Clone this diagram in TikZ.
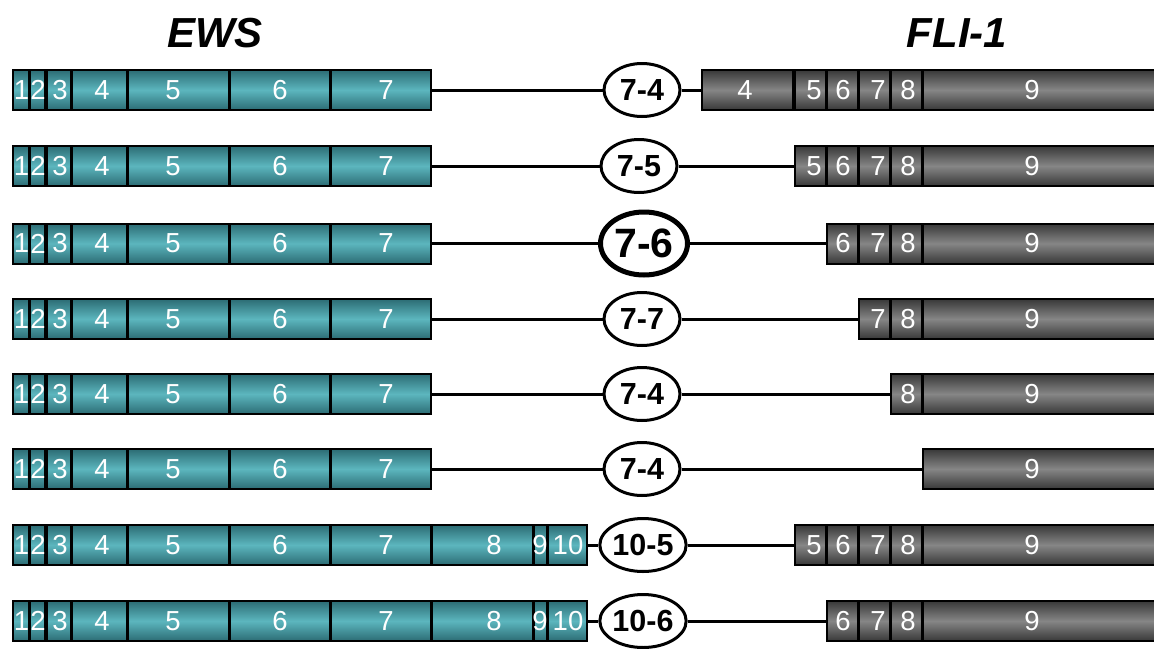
\documentclass[tikz,border=0pt]{standalone}
\usepackage{fontspec}
\setmainfont{Liberation Sans}
\usetikzlibrary{shapes.geometric}
\definecolor{tealhi}{RGB}{92,182,190}
\definecolor{tealdk}{RGB}{44,108,116}
\definecolor{grayhi}{RGB}{134,134,134}
\definecolor{graydk}{RGB}{56,56,56}
\tikzset{
  exon/.style={draw=black, line width=2pt, rectangle, inner sep=0pt, minimum height=40pt},
  ews/.style={exon, top color=tealdk, bottom color=tealdk, middle color=tealhi},
  fli/.style={exon, top color=graydk, bottom color=graydk, middle color=grayhi},
  num/.style={text=white, inner sep=0pt, font=\fontsize{27.5}{27.5}\selectfont},
  junction/.style={draw=black, ellipse, fill=white, inner sep=0pt},
  link/.style={line width=3pt},
  gene/.style={inner sep=0pt, font=\bfseries\itshape\fontsize{42}{42}\selectfont}
}
\begin{document}
\begin{tikzpicture}[x=1pt,y=-1pt]
\useasboundingbox (0,0) rectangle (1154,648);

% gene names
\node[gene] (ewsname) at (215,33) {EWS};
\node[gene] (fliname) at (957,33) {FLI-1};

% row / centre y / junction label / junction x / last EWS exon / first FLI-1 exon /
% outline width / font size / ellipse width / ellipse height
\foreach \r/\y/\lab/\jx/\last/\first/\lw/\fs/\ew/\eh in {
  1/90/7-4/642/7/4/3/30.5/76/53,
  2/166/7-5/639/7/5/3/30.5/76/53,
  3/243.5/7-6/644/7/6/5/41/87/63,
  4/319/7-7/642/7/7/3/30.5/76/53,
  5/394/7-4/642/7/8/3/30.5/76/53,
  6/469/7-4/642/7/9/3/30.5/76/53,
  7/545/10-5/643/10/5/3/30.5/76/53,
  8/621/10-6/643/10/6/3/30.5/76/53}{
  % EWS exons
  \foreach \k/\l/\rr/\tx in {1/13/29/21.5, 2/30/45/38, 3/46.5/71/60, 4/72/127/102,
      5/128/229/173, 6/230/330/280, 7/331/431/386, 8/432/533/494, 9/534/547/540,
      10/548/587/568}{
    \ifnum\k>\last\relax\else
      \node[ews, minimum width={(\rr-\l)*1pt}] (ews-\r-\k) at ({(\l+\rr)/2},\y) {};
      \node[num] (ewsnum-\r-\k) at (\tx,\y) {\k};
    \fi
  }
  % FLI-1 exons
  \foreach \k/\l/\rr/\tx in {4/702/793/745, 5/795/826/814, 6/827/858/843,
      7/859/890/878, 8/891/922/908, 9/923/1164/1032}{
    \ifnum\k<\first\relax\else
      \node[fli, minimum width={(\rr-\l)*1pt}] (fli-\r-\k) at ({(\l+\rr)/2},\y) {};
      \node[num] (flinum-\r-\k) at (\tx,\y) {\k};
    \fi
  }
  % breakpoint junction
  \node[junction, line width=\lw pt, minimum width=\ew pt, minimum height=\eh pt,
        font=\bfseries\fontsize{\fs}{\fs}\selectfont] (jn-\r) at (\jx,\y) {\lab};
  \draw[link] (ews-\r-\last.east) -- (jn-\r.west);
  \draw[link] (jn-\r.east) -- (fli-\r-\first.west);
}
\end{tikzpicture}
\end{document}
